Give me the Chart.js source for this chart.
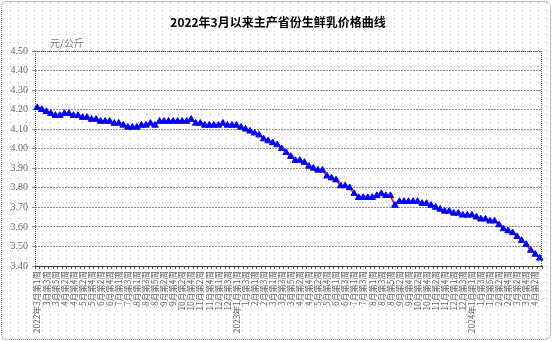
<!DOCTYPE html>
<html>
<head>
<meta charset="utf-8">
<script src="https://cdn.jsdelivr.net/npm/chart.js@4"></script>
<style>
html,body{margin:0;padding:0;background:#fff;}
#wrap{width:552px;height:341px;}
</style>
</head>
<body>
<div id="wrap"><canvas id="c" width="552" height="341"></canvas></div>
<script>
const chartTitle = "2022年3月以来主产省份生鲜乳价格曲线";
const unitLabel = "元/公斤";

const weeks = [
"2022年3月第1周","3月第2周","3月第3周","3月第4周","3月第5周",
"4月第1周","4月第2周","4月第3周","4月第4周",
"5月第1周","5月第2周","5月第3周","5月第4周",
"6月第1周","6月第2周","6月第3周","6月第4周","6月第5周",
"7月第1周","7月第2周","7月第3周","7月第4周",
"8月第1周","8月第2周","8月第3周","8月第4周","8月第5周",
"9月第1周","9月第2周","9月第3周","9月第4周",
"10月第1周","10月第2周","10月第3周","10月第4周",
"11月第1周","11月第2周","11月第3周","11月第4周","11月第5周",
"12月第1周","12月第2周","12月第3周","12月第4周",
"2023年1月第1周","1月第2周","1月第3周","1月第4周",
"2月第1周","2月第2周","2月第3周","2月第4周",
"3月第1周","3月第2周","3月第3周","3月第4周","3月第5周",
"4月第1周","4月第2周","4月第3周","4月第4周",
"5月第1周","5月第2周","5月第3周","5月第4周","5月第5周",
"6月第1周","6月第2周","6月第3周","6月第4周",
"7月第1周","7月第2周","7月第3周","7月第4周",
"8月第1周","8月第2周","8月第3周","8月第4周","8月第5周",
"9月第1周","9月第2周","9月第3周","9月第4周",
"10月第1周","10月第2周","10月第3周","10月第4周",
"11月第1周","11月第2周","11月第3周","11月第4周","11月第5周",
"12月第1周","12月第2周","12月第3周","12月第4周",
"2024年1月第1周","1月第2周","1月第3周","1月第4周","1月第5周",
"2月第1周","2月第2周","2月第3周","2月第4周",
"3月第1周","3月第2周","3月第3周","3月第4周",
"4月第1周","4月第2周","4月第3周"
];

const milkPrice = [
4.21,4.20,4.19,4.18,4.17,
4.17,4.18,4.18,4.17,
4.17,4.16,4.16,4.15,
4.15,4.14,4.14,4.14,4.13,
4.13,4.12,4.11,4.11,
4.11,4.12,4.12,4.13,4.12,
4.14,4.14,4.14,4.14,
4.14,4.14,4.14,4.15,
4.13,4.13,4.12,4.12,4.12,
4.12,4.13,4.12,4.12,
4.12,4.11,4.10,4.09,
4.08,4.07,4.05,4.04,
4.03,4.02,4.00,3.98,3.96,
3.94,3.94,3.93,3.91,
3.90,3.89,3.89,3.86,3.85,
3.84,3.81,3.81,3.80,
3.77,3.75,3.75,3.75,
3.75,3.76,3.77,3.76,3.76,
3.71,3.73,3.73,3.73,
3.73,3.73,3.72,3.72,
3.71,3.70,3.69,3.68,3.68,
3.67,3.67,3.66,3.66,
3.66,3.65,3.64,3.64,3.63,
3.63,3.61,3.59,3.58,
3.57,3.55,3.53,3.51,
3.48,3.46,3.44
];

const yMin = 3.40, yMax = 4.50, yStep = 0.05;

const decor = {
  id: 'decor',
  beforeDraw(chart) {
    const ctx = chart.ctx, W = chart.width, H = chart.height;
    ctx.save();
    ctx.fillStyle = '#ffffff';
    ctx.fillRect(0, 0, W, H);
    const t = document.createElement('canvas');
    t.width = 8; t.height = 8;
    const tc = t.getContext('2d');
    tc.fillStyle = '#a8a8a8';
    tc.fillRect(2, 2, 1, 1);
    ctx.fillStyle = ctx.createPattern(t, 'repeat');
    ctx.fillRect(0, 0, W, H);
    ctx.strokeStyle = '#7a7a7a';
    ctx.lineWidth = 1;
    ctx.setLineDash([1, 1]);
    ctx.beginPath();
    ctx.roundRect(1.5, 1.5, W - 3, H - 3, 6);
    ctx.stroke();
    ctx.setLineDash([]);
    ctx.fillStyle = '#000';
    ctx.font = 'bold 12px "Noto Sans CJK SC"';
    ctx.textAlign = 'center';
    ctx.textBaseline = 'middle';
    ctx.fillText(chartTitle, 278, 22);
    ctx.fillStyle = '#777';
    ctx.font = '10px "Noto Sans CJK SC"';
    ctx.textAlign = 'left';
    ctx.fillText(unitLabel, 50, 43);
    ctx.restore();
  },
  beforeDatasetsDraw(chart) {
    const ctx = chart.ctx, a = chart.chartArea;
    ctx.save();
    ctx.strokeStyle = '#555';
    ctx.lineWidth = 1;
    ctx.setLineDash([1, 1]);
    ctx.beginPath();
    ctx.moveTo(a.left + 0.5, a.bottom);
    ctx.lineTo(a.left + 0.5, a.top + 0.5);
    ctx.lineTo(a.right - 0.5, a.top + 0.5);
    ctx.lineTo(a.right - 0.5, a.bottom);
    ctx.stroke();
    ctx.restore();
  }
};

new Chart(document.getElementById('c'), {
  type: 'line',
  data: {
    labels: weeks,
    datasets: [{
      data: milkPrice,
      borderColor: '#ff0000',
      borderWidth: 1.5,
      pointStyle: 'triangle',
      pointRadius: 3.8,
      pointBackgroundColor: '#0000ff',
      pointBorderColor: '#0000ff',
      pointBorderWidth: 1,
      tension: 0,
      fill: false
    }]
  },
  options: {
    responsive: false,
    animation: false,
    devicePixelRatio: 1,
    layout: { padding: { top: 51, left: 2, right: 7, bottom: 2 } },
    plugins: { legend: { display: false }, title: { display: false }, tooltip: { enabled: false } },
    scales: {
      x: {
        type: 'category',
        offset: true,
        afterFit(s) { s.height = 73; },
        grid: { display: true, drawOnChartArea: false, drawTicks: true, tickLength: 3, color: '#555', offset: true },
        border: { display: true, color: '#333', dash: [1, 1] },
        ticks: {
          autoSkip: false,
          minRotation: 90,
          maxRotation: 90,
          padding: 2,
          color: '#666',
          font: { size: 8.5, family: '"Noto Sans CJK SC"' },
          callback(v, i) { return i % 2 === 0 ? weeks[i] : ''; }
        }
      },
      y: {
        min: yMin,
        max: yMax,
        afterFit(s) { s.width = 33; },
        afterBuildTicks(s) {
          const t = [];
          for (let k = 0; k <= Math.round((yMax - yMin) / yStep); k++) t.push({ value: +(yMin + k * yStep).toFixed(2) });
          s.ticks = t;
        },
        grid: { color: '#8c8c8c', lineWidth: 1, tickLength: 3, drawTicks: true },
        border: { display: false, dash: [2, 1] },
        ticks: {
          padding: 4,
          color: '#666',
          font: { size: 10, family: '"Liberation Serif"' },
          callback(v) { return Number(v).toFixed(2); }
        }
      }
    }
  },
  plugins: [decor]
});
</script>
</body>
</html>
